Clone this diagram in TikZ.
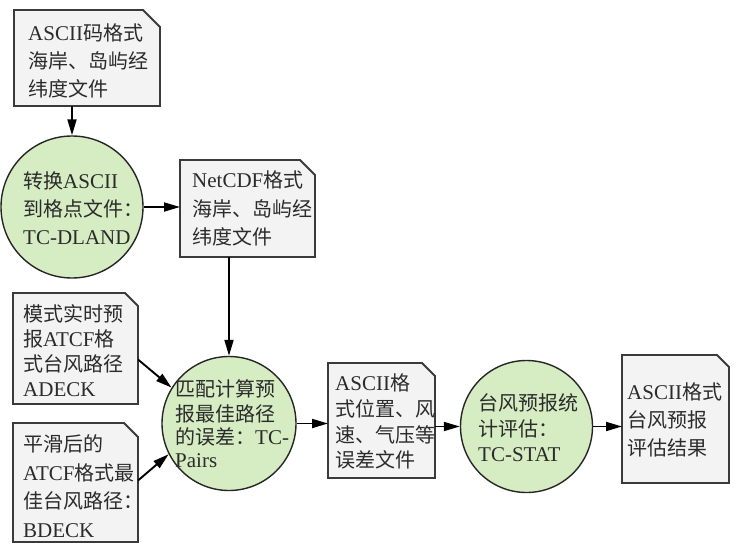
\documentclass[tikz,border=0pt]{standalone}
\usepackage{fontspec}
\setmainfont[Scale=1.05]{Liberation Serif}
\newfontfamily\zhf{Noto Sans CJK SC}
\newcommand{\zh}[1]{{\zhf #1}}
\usetikzlibrary{arrows.meta,calc}
\definecolor{docfill}{HTML}{F3F3F3}
\definecolor{circfill}{HTML}{D6ECC3}
\definecolor{edgecol}{HTML}{3A3A3A}
\definecolor{ink}{HTML}{2B2B2B}
\tikzset{
  docline/.style={draw=edgecol, fill=docfill, line width=1.8pt, line join=miter},
  circ/.style={circle, draw=black!85, fill=circfill, line width=1.4pt, inner sep=0pt},
  anchorbox/.style={rectangle, inner sep=0pt, outer sep=0pt},
  lbl/.style={inner sep=0pt, align=left, text=ink},
  arr/.style={draw=black, line width=1.9pt, -{Triangle[length=16pt,width=9pt]}},
}
\newcommand{\docbox}[6]{%
  \draw[docline] (#2,#3) -- ({#4-#6},#3) -- (#4,{#3+#6}) -- (#4,#5) -- (#2,#5) -- cycle;
  \node[anchorbox, minimum width={(#4-#2)*1pt}, minimum height={(#5-#3)*1pt}] (#1) at ({(#2+#4)/2},{(#3+#5)/2}) {};
}
\newcommand{\lbl}[5]{%
  \node[lbl, font=\fontsize{20}{#4}\selectfont, anchor=north west] (#1) at (#2,{#3+7.6-0.7*#4}) {\strut #5};
}
\begin{document}
\begin{tikzpicture}[x=1pt,y=-1pt]
\fill[white] (0,0) rectangle (738,551);
\useasboundingbox (0,0) rectangle (738,551);

% documents
\docbox{d1}{14}{10}{160}{106}{17}
\docbox{d2}{180}{160}{315}{257}{15}
\docbox{d3}{13}{293}{138}{404}{13}
\docbox{d4}{13}{423}{138}{542}{14}
\docbox{d5}{328}{363}{435}{478}{13}
\docbox{d6}{622}{355}{729}{483}{12}

% processes
\node[circ, minimum size=142pt] (c1) at (72,207) {};
\node[circ, minimum size=134pt] (c3) at (229,423.5) {};
\node[circ, minimum size=132pt] (c4) at (526.5,426.5) {};

% texts
\lbl{t1}{28}{33}{28}{ASCII\zh{码格式}\\\zh{海岸、岛屿经}\\\zh{纬度文件}}
\lbl{t2}{192}{180}{28.5}{NetCDF\zh{格式}\\\zh{海岸、岛屿经}\\\zh{纬度文件}}
\lbl{tc1}{23}{181}{28}{\zh{转换}ASCII\\\zh{到格点文件：}\\TC-DLAND}
\lbl{t3}{23}{314}{25}{\zh{模式实时预}\\\zh{报}ATCF\zh{格}\\\zh{式台风路径}\\ADECK}
\lbl{t4}{23}{444}{28.5}{\zh{平滑后的}\\ATCF\zh{格式最}\\\zh{佳台风路径：}\\BDECK}
\lbl{t5}{335}{383}{25.7}{ASCII\zh{格}\\\zh{式位置、风}\\\zh{速、气压等}\\\zh{误差文件}}
\lbl{t6}{627}{392}{28}{ASCII\zh{格式}\\\zh{台风预报}\\\zh{评估结果}}
\lbl{tc3}{175}{388}{23}{\zh{匹配计算预}\\\zh{报最佳路径}\\\zh{的误差：}TC-\\Pairs}
\lbl{tc4}{478}{403}{25.5}{\zh{台风预报统}\\\zh{计评估：}\\TC-STAT}

% connectors
\draw[arr] (c1.north |- d1.south) -- (c1.north);
\draw[arr] (c1.east) -- (c1.east -| d2.west);
\draw[arr] (c3.north |- d2.south) -- (c3.north);
\draw[arr] ($(d3.east)+(0,11)$) -- (c3.148);
\draw[arr] ($(d4.east)+(0,-2)$) -- (c3.207);
\draw[arr] (c3.east) -- (c3.east -| d5.west);
\draw[arr] (d5.east |- c4.west) -- (c4.west);
\draw[arr] (c4.east) -- (c4.east -| d6.west);
\end{tikzpicture}
\end{document}
